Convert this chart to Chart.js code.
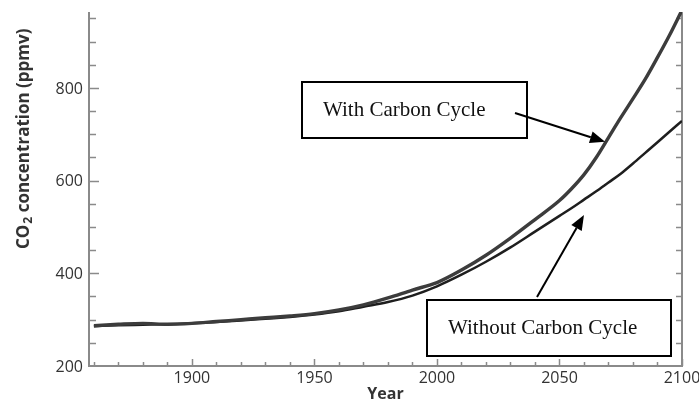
<!DOCTYPE html>
<html>
<head>
<meta charset="utf-8">
<script src="https://cdn.jsdelivr.net/npm/chart.js@4/dist/chart.umd.min.js"></script>
<style>
  html, body { margin: 0; padding: 0; background: #fff; }
  #wrap { width: 699px; height: 404px; }
</style>
</head>
<body>
<div id="wrap"><canvas id="chart-co2" width="699" height="404"></canvas></div>
<script>
// ===================== DATA =====================

const years = [1860, 1870, 1880, 1890, 1900, 1910, 1920, 1930, 1940, 1950,
               1960, 1970, 1980, 1990, 2000, 2010, 2020, 2030, 2040, 2050,
               2055, 2060, 2065, 2070, 2075, 2080, 2085, 2090, 2095, 2100];

// CO2 (ppmv) with the carbon-cycle feedback
const withCycle = [287, 290, 292, 290, 292, 296, 300, 304, 308, 313,
                   321, 332, 347, 364, 380, 407, 439, 476, 516, 557,
                   583, 613, 650, 693, 736, 777, 819, 866, 915, 968];

// CO2 (ppmv) without the carbon-cycle feedback
const withoutCycle = [286, 288, 289, 290, 292, 295, 298, 302, 306, 311,
                      318, 328, 338, 352, 372, 397, 425, 456, 490, 524,
                      541, 559, 577, 596, 615, 637, 660, 683, 706, 729];

const xLabels = [1900, 1950, 2000, 2050, 2100];
const yLabels = [200, 400, 600, 800];

const xTitle = 'Year';
const yTitle = ['CO', '2', ' concentration (ppmv)'];

const withLabel = 'With Carbon Cycle';
const withoutLabel = 'Without Carbon Cycle';

// ===================== HELPERS =====================

const AXIS_COLOR = '#8a8a8a';
const TEXT_COLOR = '#333333';

function toPoints(xs, ys) {
    return xs.map((x, i) => ({ x: x, y: ys[i] }));
}

function drawArrow(ctx, x1, y1, x2, y2) {
    const ang = Math.atan2(y2 - y1, x2 - x1);
    const len = 15, half = 6;
    const bx = x2 - len * Math.cos(ang), by = y2 - len * Math.sin(ang);
    ctx.beginPath();
    ctx.moveTo(x1, y1);
    ctx.lineTo(bx, by);
    ctx.lineWidth = 2;
    ctx.strokeStyle = '#000';
    ctx.stroke();
    ctx.beginPath();
    ctx.moveTo(x2, y2);
    ctx.lineTo(bx + half * Math.sin(ang), by - half * Math.cos(ang));
    ctx.lineTo(bx - half * Math.sin(ang), by + half * Math.cos(ang));
    ctx.closePath();
    ctx.fillStyle = '#000';
    ctx.fill();
}

function drawBox(ctx, left, top, w, h, text) {
    ctx.fillStyle = '#fff';
    ctx.fillRect(left, top, w, h);
    ctx.lineWidth = 2;
    ctx.strokeStyle = '#000';
    ctx.strokeRect(left, top, w, h);
    ctx.fillStyle = '#111';
    ctx.font = '21px "Liberation Serif", "Times New Roman", serif';
    ctx.textAlign = 'left';
    ctx.textBaseline = 'alphabetic';
    ctx.fillText(text, left + 21, top + h / 2 + 6);
}

// ===================== AXES PLUGIN =====================

const axesPlugin = {
    id: 'axesPlugin',
    beforeDatasetsDraw(chart) {
        const { ctx, chartArea: a, scales: { x, y } } = chart;
        ctx.save();
        ctx.strokeStyle = AXIS_COLOR;
        ctx.lineWidth = 2;

        // axis lines (left, bottom, right)
        ctx.beginPath();
        ctx.moveTo(a.left, a.top);
        ctx.lineTo(a.left, a.bottom);
        ctx.lineTo(a.right, a.bottom);
        ctx.lineTo(a.right, a.top);
        ctx.stroke();

        // y ticks every 50, pointing inward on both sides
        ctx.lineWidth = 1.5;
        for (let v = 250; v < y.max; v += 50) {
            const py = Math.round(y.getPixelForValue(v)) + 0.5;
            const major = yLabels.includes(v);
            ctx.beginPath();
            ctx.moveTo(a.left, py);
            ctx.lineTo(a.left + (major ? 10 : 7), py);
            ctx.moveTo(a.right, py);
            ctx.lineTo(a.right - 6, py);
            ctx.stroke();
        }

        // x ticks every 10 years, pointing up
        for (let v = 1860; v <= 2100; v += 10) {
            const px = Math.round(x.getPixelForValue(v)) + 0.5;
            const major = xLabels.includes(v);
            ctx.beginPath();
            ctx.moveTo(px, a.bottom);
            ctx.lineTo(px, a.bottom - (major ? 7 : 4));
            ctx.stroke();
        }

        // tick labels
        ctx.fillStyle = TEXT_COLOR;
        ctx.font = '16px "Open Sans", sans-serif';
        ctx.textAlign = 'right';
        ctx.textBaseline = 'middle';
        yLabels.forEach(v => ctx.fillText(String(v), a.left - 6, y.getPixelForValue(v) + 1));

        ctx.textAlign = 'center';
        ctx.textBaseline = 'alphabetic';
        xLabels.forEach(v => ctx.fillText(String(v), x.getPixelForValue(v), a.bottom + 17));

        // axis titles
        ctx.font = 'bold 16px "Open Sans", sans-serif';
        ctx.fillText(xTitle, (a.left + a.right) / 2, a.bottom + 33);

        ctx.save();
        ctx.translate(24, 249);
        ctx.rotate(-Math.PI / 2);
        ctx.textAlign = 'left';
        ctx.textBaseline = 'middle';
        let cx = 0;
        ctx.font = 'bold 17px "Open Sans", sans-serif';
        ctx.fillText(yTitle[0], cx, 0);
        cx += ctx.measureText(yTitle[0]).width + 1;
        ctx.font = 'bold 12px "Open Sans", sans-serif';
        ctx.fillText(yTitle[1], cx, 5);
        cx += ctx.measureText(yTitle[1]).width;
        ctx.font = 'bold 17px "Open Sans", sans-serif';
        ctx.fillText(yTitle[2], cx, 0);
        ctx.restore();

        ctx.restore();
    },
    afterDatasetsDraw(chart) {
        const { ctx, scales: { x, y } } = chart;
        ctx.save();

        drawBox(ctx, 302, 82, 225, 56, withLabel);
        drawArrow(ctx, 515, 113, x.getPixelForValue(2068.6), y.getPixelForValue(684));

        drawBox(ctx, 427, 300, 244, 56, withoutLabel);
        drawArrow(ctx, 537, 297, x.getPixelForValue(2060), y.getPixelForValue(526));

        ctx.restore();
    }
};

// ===================== CHART =====================

new Chart(document.getElementById('chart-co2'), {
    type: 'line',
    data: {
        datasets: [
            {
                // dark edge of the "with carbon cycle" band
                label: withLabel,
                data: toPoints(years, withCycle),
                borderColor: '#3c3c3c',
                borderWidth: 3.4,
                cubicInterpolationMode: 'monotone'
            },
            {
                // lighter core of the same line
                label: withLabel + ' core',
                data: toPoints(years, withCycle),
                borderColor: '#8e8e8e',
                borderWidth: 1.2,
                cubicInterpolationMode: 'monotone'
            },
            {
                label: withoutLabel,
                data: toPoints(years, withoutCycle),
                borderColor: '#1e1e1e',
                borderWidth: 2.5,
                cubicInterpolationMode: 'monotone'
            }
        ]
    },
    options: {
        responsive: false,
        devicePixelRatio: 1,
        animation: false,
        layout: { padding: { left: 89, right: 17, top: 12, bottom: 38 } },
        plugins: { legend: { display: false }, tooltip: { enabled: false } },
        elements: { point: { radius: 0 } },
        scales: {
            x: { type: 'linear', min: 1858, max: 2100, display: false },
            y: { type: 'linear', min: 200, max: 964, display: false }
        }
    },
    plugins: [axesPlugin]
});
</script>
</body>
</html>
